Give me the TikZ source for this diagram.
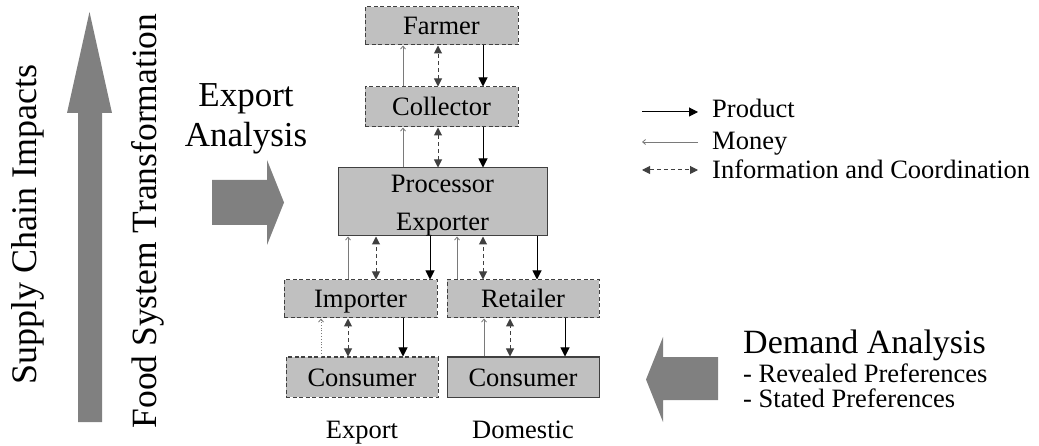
\documentclass[tikz,border=0pt]{standalone}
\usepackage{fontspec}
\setmainfont{Liberation Serif}
\usetikzlibrary{arrows.meta}

\definecolor{boxfill}{HTML}{C0C0C0}
\definecolor{boxline}{HTML}{404040}
\definecolor{bigarrow}{HTML}{808080}
\definecolor{moneygray}{HTML}{7A7A7A}

\tikzset{
  unit/.style={draw=boxline, fill=boxfill, line width=1pt, inner sep=0pt,
    minimum width=153pt, minimum height=38pt, align=center,
    text height=18pt, text depth=0pt, font=\fontsize{26.5}{38}\selectfont},
  dashunit/.style={unit, dash pattern=on 4pt off 2.5pt},
  product/.style={black, line width=1pt, -{Triangle[length=9pt,width=9pt]}},
  money/.style={moneygray, line width=0.8pt, -{Straight Barb[length=3pt,width=5pt]}},
  info/.style={boxline, line width=1pt, dash pattern=on 4pt off 3pt,
    {Triangle[length=8pt,width=8pt]}-{Triangle[length=8pt,width=8pt]}},
  small/.style={inner sep=0pt, font=\fontsize{26.5}{30}\selectfont},
  big/.style={inner sep=0pt, font=\fontsize{35}{40}\selectfont},
  side/.style={inner sep=0pt, rotate=90, font=\fontsize{36}{40}\selectfont}
}

\begin{document}
\begin{tikzpicture}[x=1pt, y=-1pt]
  \useasboundingbox (0,0) rectangle (1039,446);

  % left column
  \fill[bigarrow] (78,422) -- (78,113) -- (67,113) -- (89.5,12)
    -- (112,113) -- (102,113) -- (102,422) -- cycle;
  \node[side] (supplychain) at (28,225) {Supply Chain Impacts};
  \node[side, font=\fontsize{35.5}{40}\selectfont] (foodsystem) at (148,221)
    {Food System Transformation};

  % export analysis
  \node[big, align=center] (exportanalysis) at (246,119) {Export\\Analysis};
  \fill[bigarrow] (212,180) -- (267,180) -- (267,160) -- (284,202.5)
    -- (267,245) -- (267,225) -- (212,225) -- cycle;

  % chain
  \node[dashunit] (farmer) at (441.5,26) {Farmer};
  \node[dashunit, minimum height=40pt] (collector) at (441.5,107) {Collector};
  \node[unit, minimum width=209pt, minimum height=68pt, text height=58pt]
    (processor) at (442.5,202) {Processor\\Exporter};
  \node[dashunit] (importer) at (360.5,299) {Importer};
  \node[dashunit, minimum width=152pt] (retailer) at (523,299) {Retailer};
  \node[dashunit, minimum width=152pt, minimum height=40pt]
    (consumerexp) at (362,377) {Consumer};
  \node[unit, minimum width=152pt, minimum height=40pt]
    (consumerdom) at (523,377) {Consumer};

  \draw[money] (collector.north -| 403,0) -- (farmer.south -| 403,0);
  \draw[info] (collector.north -| 438,0) -- (farmer.south -| 438,0);
  \draw[product] (farmer.south -| 483,0) -- (collector.north -| 483,0);

  \draw[money] (processor.north -| 403,0) -- (collector.south -| 403,0);
  \draw[info] (processor.north -| 438,0) -- (collector.south -| 438,0);
  \draw[product] (collector.south -| 483,0) -- (processor.north -| 483,0);

  \draw[money] (importer.north -| 348,0) -- (processor.south -| 348,0);
  \draw[info] (importer.north -| 376,0) -- (processor.south -| 376,0);
  \draw[product] (processor.south -| 430,0) -- (importer.north -| 430,0);

  \draw[money] (retailer.north -| 457,0) -- (processor.south -| 457,0);
  \draw[info] (retailer.north -| 483,0) -- (processor.south -| 483,0);
  \draw[product] (processor.south -| 537,0) -- (retailer.north -| 537,0);

  \draw[money, dotted] (consumerexp.north -| 321,0) -- (importer.south -| 321,0);
  \draw[info] (consumerexp.north -| 348,0) -- (importer.south -| 348,0);
  \draw[product] (importer.south -| 403,0) -- (consumerexp.north -| 403,0);

  \draw[money] (consumerdom.north -| 484,0) -- (retailer.south -| 484,0);
  \draw[info] (consumerdom.north -| 510,0) -- (retailer.south -| 510,0);
  \draw[product] (retailer.south -| 565,0) -- (consumerdom.north -| 565,0);

  \node[small, anchor=base] (exportlbl) at (362,438) {Export};
  \node[small, anchor=base] (domesticlbl) at (523,438) {Domestic};

  % legend
  \node[small, anchor=base west] (lgproduct) at (712,118) {Product};
  \node[small, anchor=base west] (lgmoney) at (712,150) {Money};
  \node[small, anchor=base west] (lginfo) at (712,179)
    {Information and Coordination};
  \draw[product] ([xshift=-70pt,yshift=6pt]lgproduct.base west)
    -- ([xshift=-14pt,yshift=6pt]lgproduct.base west);
  \draw[money] ([xshift=-14pt,yshift=8pt]lgmoney.base west)
    -- ([xshift=-70pt,yshift=8pt]lgmoney.base west);
  \draw[info] ([xshift=-70pt,yshift=9pt]lginfo.base west)
    -- ([xshift=-14pt,yshift=9pt]lginfo.base west);

  % demand analysis
  \fill[bigarrow] (718,357) -- (663,357) -- (663,337) -- (646,379.5)
    -- (663,422) -- (663,400) -- (718,400) -- cycle;
  \node[inner sep=0pt, anchor=base west, font=\fontsize{34}{40}\selectfont]
    (demand) at (743,353) {Demand Analysis};
  \node[small, anchor=base west] (revealed) at (743,382)
    {- Revealed Preferences};
  \node[small, anchor=base west] (stated) at (743,407)
    {- Stated Preferences};
\end{tikzpicture}
\end{document}
